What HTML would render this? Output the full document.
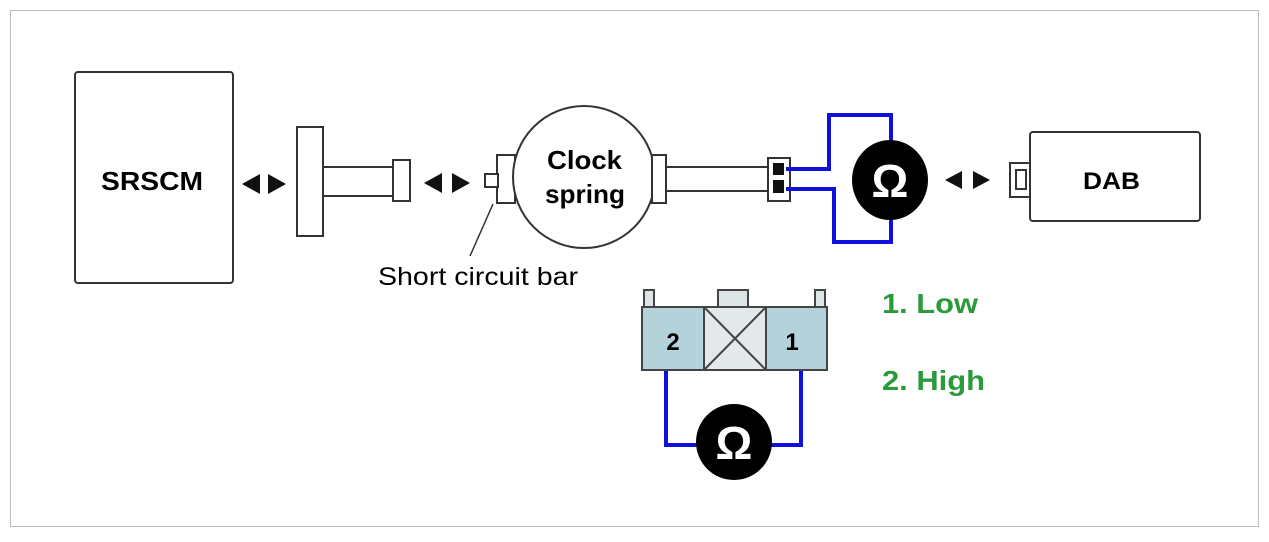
<!DOCTYPE html>
<html><head><style>body{margin:0;background:#fff}</style></head><body>
<svg width="1269" height="537" viewBox="0 0 1269 537" xmlns="http://www.w3.org/2000/svg" font-family="Liberation Sans, sans-serif">
<rect x="10.5" y="10.5" width="1248" height="516" fill="#fff" stroke="#bbb" stroke-width="1"/>
<!-- SRSCM -->
<rect x="75" y="72" width="158" height="211" rx="3" fill="#fff" stroke="#333" stroke-width="2"/>
<text x="101" y="190" font-size="26" font-weight="bold" textLength="102" lengthAdjust="spacingAndGlyphs">SRSCM</text>
<!-- arrows -->
<g fill="#111">
<polygon points="242,184 260,174 260,194"/><polygon points="286,184 268,174 268,194"/>
<polygon points="424,183 442,173 442,193"/><polygon points="470,183 452,173 452,193"/>
<polygon points="945,180 962,171 962,189"/><polygon points="990,180 973,171 973,189"/>
</g>
<!-- connector left -->
<g fill="#fff" stroke="#333" stroke-width="2">
<rect x="297" y="127" width="26" height="109"/>
<rect x="393" y="160" width="17" height="41"/>
<line x1="323" y1="167" x2="393" y2="167"/><line x1="323" y1="196" x2="393" y2="196"/>
<rect x="497" y="155" width="18" height="48"/>
<rect x="485" y="174" width="13" height="13"/>
<circle cx="584" cy="177" r="71"/>
<rect x="652" y="155" width="14" height="48"/>
<line x1="666" y1="167" x2="770" y2="167"/><line x1="666" y1="191" x2="770" y2="191"/>
<rect x="768" y="158" width="22" height="43"/>
<rect x="1010" y="163" width="20" height="34"/>
<rect x="1016" y="170" width="10" height="19"/>
<rect x="1030" y="132" width="170" height="89" rx="3"/>
</g>
<rect x="773" y="163" width="11" height="12" fill="#111"/><rect x="773" y="180" width="11" height="13" fill="#111"/>
<line x1="493" y1="204" x2="470" y2="256" stroke="#333" stroke-width="1.5"/>
<text x="547" y="169" font-size="26" font-weight="bold" textLength="75" lengthAdjust="spacingAndGlyphs">Clock</text>
<text x="545" y="203" font-size="26" font-weight="bold" textLength="80" lengthAdjust="spacingAndGlyphs">spring</text>
<text x="378" y="285" font-size="25" textLength="200" lengthAdjust="spacingAndGlyphs">Short circuit bar</text>
<text x="1083" y="189" font-size="24" font-weight="bold" textLength="57" lengthAdjust="spacingAndGlyphs">DAB</text>
<!-- blue wiring -->
<g fill="none" stroke="#1010dd" stroke-width="4">
<polyline points="786,169 829,169 829,115 891,115 891,150"/>
<polyline points="786,189 834,189 834,242 891,242 891,210"/>
<polyline points="666,362 666,445 740,445"/>
<polyline points="801,362 801,445 740,445"/>
</g>
<ellipse cx="890" cy="180" rx="38" ry="40" fill="#000"/>
<text x="890" y="197" font-size="46" font-weight="bold" fill="#fff" text-anchor="middle">Ω</text>
<!-- bottom connector -->
<g stroke="#444" stroke-width="2">
<rect x="644" y="290" width="10" height="18" fill="#dde5e7"/>
<rect x="815" y="290" width="10" height="18" fill="#dde5e7"/>
<rect x="718" y="290" width="30" height="18" fill="#dde5e7"/>
<rect x="642" y="307" width="62" height="63" fill="#b4d2da"/>
<rect x="766" y="307" width="61" height="63" fill="#b4d2da"/>
<rect x="704" y="307" width="62" height="63" fill="#e3e9ea"/>
<line x1="704" y1="307" x2="766" y2="370"/><line x1="766" y1="307" x2="704" y2="370"/>
</g>
<text x="673" y="350" font-size="24" font-weight="bold" text-anchor="middle">2</text>
<text x="792" y="350" font-size="24" font-weight="bold" text-anchor="middle">1</text>
<circle cx="734" cy="442" r="38" fill="#000"/>
<text x="734" y="459" font-size="46" font-weight="bold" fill="#fff" text-anchor="middle">Ω</text>
<text x="882" y="313" font-size="28" font-weight="bold" fill="#2a9a3a" textLength="96" lengthAdjust="spacingAndGlyphs">1. Low</text>
<text x="882" y="390" font-size="28" font-weight="bold" fill="#2a9a3a" textLength="103" lengthAdjust="spacingAndGlyphs">2. High</text>
</svg>
</body></html>
